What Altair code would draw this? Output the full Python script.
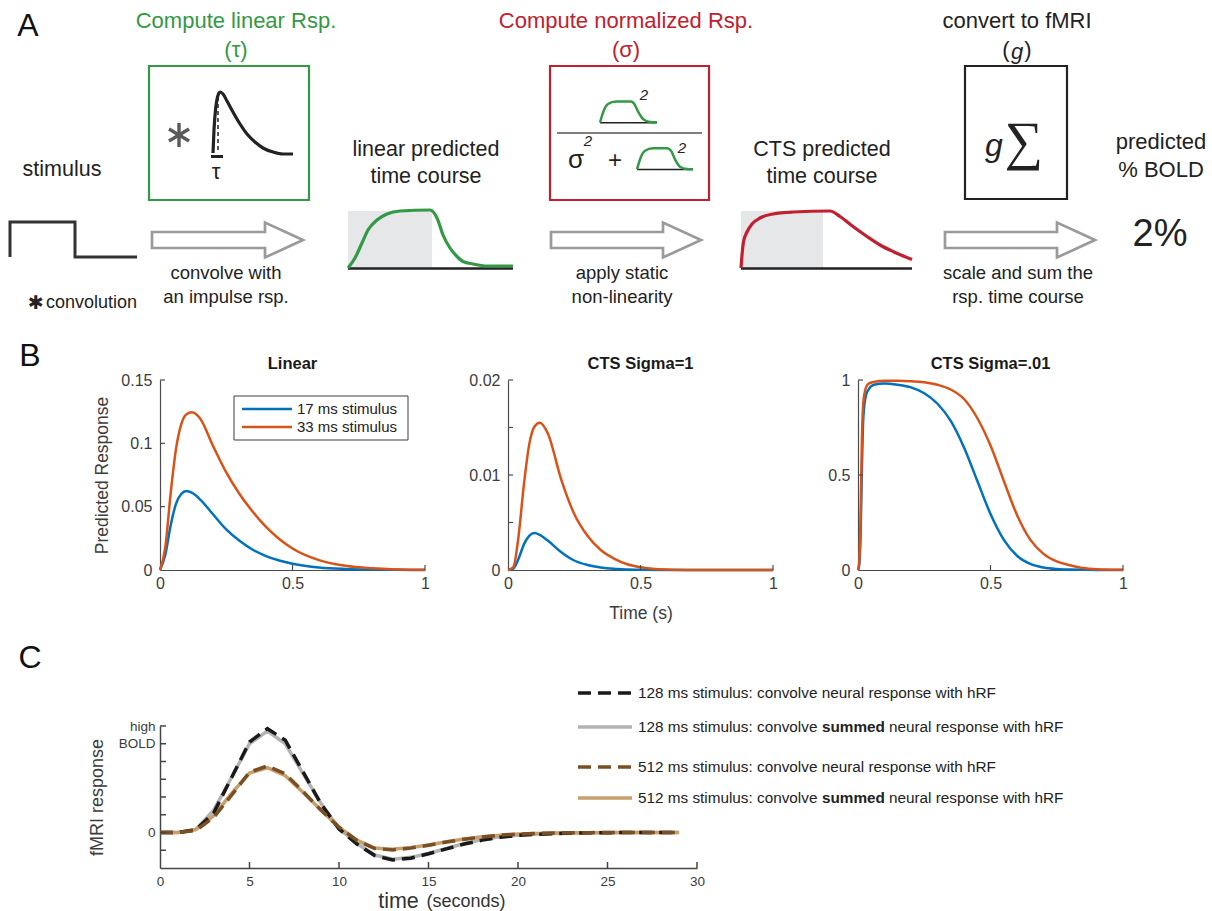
import altair as alt
import pandas as pd

FONT = "Liberation Sans"
GREEN = "#339944"
RED = "#c1202f"
BLUE = "#0072BD"
ORANGE = "#D95319"
AXC = "#4b4b4b"
INK = "#222222"

# ---------------- Panel B : model predictions ----------------
lin_t = [0, 0.02, 0.04, 0.06, 0.08, 0.10, 0.12, 0.15, 0.20, 0.25, 0.30, 0.35, 0.40, 0.45, 0.50, 0.60, 0.70, 0.80, 0.90, 1.00]
lin_17ms = [0, 0.012, 0.035, 0.052, 0.060, 0.0624, 0.061, 0.056, 0.044, 0.032, 0.023, 0.016, 0.011, 0.0075, 0.005, 0.002, 0.0008, 0.0003, 0.0001, 0]
lin_33ms = [0, 0.018, 0.060, 0.095, 0.115, 0.123, 0.1245, 0.120, 0.098, 0.077, 0.060, 0.046, 0.034, 0.0245, 0.017, 0.0078, 0.0033, 0.0013, 0.0004, 0.0001]

cts1_t = [0, 0.02, 0.04, 0.06, 0.08, 0.10, 0.12, 0.15, 0.20, 0.25, 0.30, 0.35, 0.40, 0.45, 0.50, 0.60, 0.70, 0.80, 1.00]
cts1_17ms = [0, 0.00015, 0.0012, 0.0027, 0.0036, 0.0039, 0.0037, 0.0031, 0.0019, 0.0010, 0.00053, 0.00026, 0.00012, 0.00006, 0.00003, 0.000005, 0, 0, 0]
cts1_33ms = [0, 0.0003, 0.0036, 0.0090, 0.0132, 0.0151, 0.0155, 0.0144, 0.0096, 0.0059, 0.0036, 0.0021, 0.0012, 0.0006, 0.0003, 0.00006, 0.00001, 0, 0]

cts01_t = [0, 0.005, 0.01, 0.015, 0.02, 0.03, 0.04, 0.06, 0.10, 0.15, 0.20, 0.25, 0.30, 0.35, 0.40, 0.45, 0.50, 0.55, 0.60, 0.65, 0.70, 0.75, 0.80, 0.85, 0.90, 1.00]
cts01_17ms = [0, 0.03, 0.2, 0.55, 0.8, 0.92, 0.95, 0.975, 0.982, 0.975, 0.961, 0.93, 0.875, 0.785, 0.645, 0.47, 0.295, 0.16, 0.075, 0.032, 0.013, 0.005, 0.002, 0.001, 0.0005, 0]
cts01_33ms = [0, 0.05, 0.3, 0.7, 0.88, 0.96, 0.98, 0.99, 0.996, 0.996, 0.994, 0.988, 0.975, 0.95, 0.90, 0.80, 0.655, 0.47, 0.29, 0.16, 0.085, 0.045, 0.025, 0.01, 0.004, 0.001]

# ---------------- Panel C : fMRI predictions ----------------
c_time = list(range(30))
c128_neural = [0, 0, 0.15, 1.1, 3.1, 5.1, 5.85, 5.2, 3.4, 1.6, 0.2, -0.65, -1.3, -1.55, -1.45, -1.2, -0.92, -0.65, -0.43, -0.27, -0.16, -0.1, -0.06, -0.035, -0.02, -0.01, -0.005, 0, 0, 0]
c128_summed = [0, 0, 0.17, 1.26, 3.1, 5.0, 5.72, 5.0, 3.3, 1.63, 0.22, -0.62, -1.27, -1.5, -1.4, -1.18, -0.9, -0.62, -0.4, -0.24, -0.15, -0.09, -0.05, -0.03, -0.015, -0.008, -0.004, 0, 0, 0]
c512_neural = [0, 0, 0.12, 0.85, 2.1, 3.4, 3.75, 3.3, 2.3, 1.25, 0.3, -0.45, -0.9, -0.98, -0.88, -0.72, -0.54, -0.38, -0.25, -0.15, -0.09, -0.05, -0.03, -0.015, -0.008, -0.004, 0, 0, 0, 0]
c512_summed = [0, 0, 0.17, 0.95, 2.2, 3.35, 3.65, 3.2, 2.25, 1.25, 0.3, -0.43, -0.88, -0.95, -0.85, -0.7, -0.52, -0.37, -0.24, -0.15, -0.09, -0.05, -0.03, -0.015, -0.008, -0.004, 0, 0, 0, 0]
c_colors = {"128n": "#1a1a1a", "128s": "#b3b3b3", "512n": "#7b4f24", "512s": "#c8a06b"}
c_leg_labels = [
    ("128 ms stimulus: convolve neural response with hRF",),
    ("128 ms stimulus: convolve", "summed", "neural response with hRF"),
    ("512 ms stimulus: convolve neural response with hRF",),
    ("512 ms stimulus: convolve", "summed", "neural response with hRF"),
]

# ---------------- Panel A : schematic (page pixel geometry) ----------------
a_labels = [
    (28, 26, "A", 32, "#111111"),
    (236, 21, "Compute linear Rsp.", 22, GREEN),
    (236, 50, "(τ)", 22, GREEN),
    (216, 172, "τ", 22, INK),
    (62, 170, "stimulus", 21.5, INK),
    (226, 273, "convolve with", 18.5, INK),
    (226, 297, "an impulse rsp.", 18.5, INK),
    (426, 150, "linear predicted", 21.5, INK),
    (426, 177, "time course", 21.5, INK),
    (626, 21, "Compute normalized Rsp.", 22, RED),
    (626, 50, "(σ)", 22, RED),
    (576, 160, "σ", 26, INK),
    (615, 161, "+", 24, INK),
    (622, 273, "apply static", 18.5, INK),
    (622, 297, "non-linearity", 18.5, INK),
    (822, 150, "CTS predicted", 21.5, INK),
    (822, 177, "time course", 21.5, INK),
    (1017, 21, "convert to fMRI", 22, INK),
    (1006, 50, "(", 22, INK),
    (1028, 50, ")", 22, INK),
    (1018, 273, "scale and sum the", 18.5, INK),
    (1018, 297, "rsp. time course", 18.5, INK),
    (1161, 142, "predicted", 22, INK),
    (1161, 170, "% BOLD", 22, INK),
    (1160, 235, "2%", 38, INK),
]
a_left_labels = [(46, 303, "convolution", 18, INK)]
a_symbol_labels = [(36, 303, "✱", 19, INK)]
a_italic_labels = [
    (644, 95, "2", 15, INK), (588, 141, "2", 15, INK), (682, 148, "2", 15, INK),
    (1017, 52, "g", 22, INK), (994, 146, "g", 32, INK),
]
a_serif_labels = [(1024, 143, "∑", 54, INK)]

a_boxes = [(149, 66, 309, 200, GREEN), (550, 66, 709, 200, RED), (965, 66, 1067, 199, "#222222")]
a_shades = [(348, 211, 432, 268), (741, 211, 823, 268)]

# convolution asterisk in the green box: three strokes through its centre
star_cx, star_cy = 179, 135
star_dx = [0, 10, 10]
star_dy = [12, 6, -6]

stim_x = [10, 10, 75, 75, 137]
stim_y = [257, 222, 222, 257, 257]
irf_x = [213, 214, 215.5, 217.5, 220, 223, 227, 233, 240, 247, 255, 263, 273, 283, 293]
irf_y = [153, 130, 110, 97, 92, 94, 101, 112, 124, 134, 142, 148, 152, 154, 154]
lin_mini_x = [348, 355, 362, 368, 377, 387, 400, 430, 437, 443, 450, 457, 463, 473, 487, 513]
lin_mini_y = [268, 258, 243, 230, 220, 214, 211, 210, 218, 235, 248, 256.5, 261.5, 264, 266, 266]
cts_mini_x = [741, 742, 743.5, 747, 752, 760, 773, 793, 830, 840, 853, 867, 880, 893, 912]
cts_mini_y = [268, 255, 242, 232, 224, 218, 214, 212, 211, 216.5, 226.5, 236.5, 245, 251.5, 259.5]
num_x = [600, 604, 608, 616, 631, 634, 638, 643, 650, 657]
num_y = [122.5, 110, 104, 101.5, 101.5, 103.5, 111.5, 119, 122, 122.3]
den_x = [637, 641, 645, 653, 667, 671, 675, 680, 687, 693]
den_y = [169.3, 156.7, 150.7, 148.3, 148.3, 150.7, 159.3, 166.7, 169, 169.3]
arrow_x0 = [152, 551, 945]
arrow_xb = [265, 663, 1057]
arrow_xt = [303, 701, 1095]
arrow_yc = 240


def add_poly(rows, pid, xs, ys, color, width):
    for i, (x, y) in enumerate(zip(xs, ys)):
        rows.append({"id": pid, "o": i, "x": x, "y": y, "c": color, "w": width})


xA = alt.Scale(domain=[0, 1212], range=[-160, 1052])
yA = alt.Scale(domain=[0, 315], range=[0, 315])


def ax(f):
    return alt.X(f, type="quantitative", scale=xA, axis=None)


def ay(f):
    return alt.Y(f, type="quantitative", scale=yA, axis=None)


arrow_rows, straight_rows, smooth_rows = [], [], []
for k in range(3):
    x0, xb, xt, yc = arrow_x0[k], arrow_xb[k], arrow_xt[k], arrow_yc
    add_poly(arrow_rows, f"arrow{k}",
             [x0, x0, xb, xb, xt, xb, xb, x0, x0],
             [yc, yc - 8, yc - 8, yc - 17.5, yc, yc + 17.5, yc + 8, yc + 8, yc],
             "#9a9a9a", 2.7)
for k, (dx, dy) in enumerate(zip(star_dx, star_dy)):
    add_poly(straight_rows, f"star{k}", [star_cx - dx, star_cx + dx], [star_cy - dy, star_cy + dy],
             "#5a5a5a", 3.4)
add_poly(straight_rows, "stim", stim_x, stim_y, "#333333", 3)
add_poly(straight_rows, "base1", [348, 513], [268.5, 268.5], INK, 2.5)
add_poly(straight_rows, "base2", [741, 912], [268.5, 268.5], INK, 2.5)
add_poly(straight_rows, "bnum", [600, 657], [122.8, 122.8], INK, 1.5)
add_poly(straight_rows, "bden", [637, 693], [169.5, 169.5], INK, 1.5)
add_poly(straight_rows, "frac", [557, 702], [133, 133], "#555555", 1.5)
add_poly(straight_rows, "taubar", [211, 223], [156.5, 156.5], INK, 3)
add_poly(smooth_rows, "irf", irf_x, irf_y, INK, 3.2)
add_poly(smooth_rows, "lin", lin_mini_x, lin_mini_y, GREEN, 3.2)
add_poly(smooth_rows, "cts", cts_mini_x, cts_mini_y, RED, 3.2)
add_poly(smooth_rows, "num", num_x, num_y, GREEN, 2.5)
add_poly(smooth_rows, "den", den_x, den_y, GREEN, 2.5)


def a_lines(rows, interp, join):
    return alt.Chart(pd.DataFrame(rows)).mark_line(interpolate=interp, strokeJoin=join).encode(
        x=ax("x"), y=ay("y"), detail="id:N", order="o:Q",
        color=alt.Color("c:N", scale=None), strokeWidth=alt.StrokeWidth("w:Q", scale=None))


def a_text(rows, **kw):
    df = pd.DataFrame(rows, columns=["x", "y", "t", "s", "c"])
    return alt.Chart(df).mark_text(baseline="middle", **kw).encode(
        x=ax("x"), y=ay("y"), text="t:N",
        size=alt.Size("s:Q", scale=None), color=alt.Color("c:N", scale=None))


shade_df = pd.DataFrame(a_shades, columns=["x", "y", "x2", "y2"])
box_df = pd.DataFrame(a_boxes, columns=["x", "y", "x2", "y2", "c"])
anchor_df = pd.DataFrame({"x": [0], "y": [0], "x2": [1], "y2": [315]})

panel_a = alt.layer(
    alt.Chart(anchor_df).mark_rect(opacity=0).encode(x=ax("x"), x2="x2", y=ay("y"), y2="y2"),
    alt.Chart(shade_df).mark_rect(color="#e6e7e8").encode(x=ax("x"), x2="x2", y=ay("y"), y2="y2"),
    alt.Chart(box_df).mark_rect(fillOpacity=0, strokeWidth=2.2).encode(
        x=ax("x"), x2="x2", y=ay("y"), y2="y2", stroke=alt.Stroke("c:N", scale=None)),
    a_lines(arrow_rows, "linear", "miter"),
    a_lines(straight_rows, "linear", "miter"),
    a_lines(smooth_rows, "monotone", "round"),
    alt.Chart(pd.DataFrame({"x": [218, 218], "y": [97, 153]})).mark_line(
        color=INK, strokeWidth=1.5, strokeDash=[4, 3]).encode(x=ax("x"), y=ay("y")),
    a_text(a_labels, font=FONT),
    a_text(a_left_labels, font=FONT, align="left"),
    a_text(a_symbol_labels, font="DejaVu Sans"),
    a_text(a_italic_labels, font=FONT, fontStyle="italic"),
    a_text(a_serif_labels, font="Liberation Serif"),
).properties(width=1052, height=315)

# ---------------- Panel B charts ----------------
AXIS = dict(domainColor=AXC, domainWidth=1.2, ticks=False, grid=False,
            labelColor="#3c3c3c", labelFontSize=16, labelFont=FONT,
            labelFlush=False, labelOverlap=False,
            titleColor="#3c3c3c", titleFontSize=17.5, titleFont=FONT, titleFontWeight="normal")
dummy = pd.DataFrame({"a": [0]})


def fixed_text(txt, x, y, size, color=INK, weight="normal", align="center", baseline="middle"):
    return alt.Chart(dummy).mark_text(text=txt, font=FONT, fontSize=size, color=color,
                                      fontWeight=weight, align=align, baseline=baseline).encode(
        x=alt.value(x), y=alt.value(y))


def spacer(x0, x1, y0, y1):
    return alt.Chart(dummy).mark_rect(opacity=0).encode(
        x=alt.value(x0), x2=alt.value(x1), y=alt.value(y0), y2=alt.value(y1))


def panel_b(title, t, s17, s33, ymax, ylabels, yticks, xtitle, ytitle, extra, space):
    n = len(t)
    df = pd.DataFrame({"t": t + t, "v": s17 + s33, "c": [BLUE] * n + [ORANGE] * n,
                       "s": ["17 ms"] * n + ["33 ms"] * n})
    xs = alt.Scale(domain=[0, 1], nice=False, zero=False)
    ys = alt.Scale(domain=[0, ymax], nice=False, zero=False)
    xenc = alt.X("t:Q", scale=xs, axis=alt.Axis(values=[0, 0.5, 1], format=".1~f", title=xtitle,
                                                  labelPadding=5, titlePadding=13, **AXIS))
    yenc = alt.Y("v:Q", scale=ys, axis=alt.Axis(values=ylabels, format=".2~f", title=ytitle,
                                                  labelPadding=8, titlePadding=9, **AXIS))
    lines = alt.Chart(df).mark_line(strokeWidth=2.5, interpolate="monotone").encode(
        x=xenc, y=yenc, color=alt.Color("c:N", scale=None), detail="s:N")
    ytk = alt.Chart(pd.DataFrame({"v": yticks})).mark_rule(color=AXC, strokeWidth=1.2).encode(
        y=yenc, x=alt.value(0), x2=alt.value(5))
    xtk = alt.Chart(pd.DataFrame({"t": [0.5, 1.0]})).mark_rule(color=AXC, strokeWidth=1.2).encode(
        x=xenc, y=alt.value(190), y2=alt.value(185))
    heading = fixed_text(title, 132.5, -11, 16.5, "#1a1a1a", weight="bold", baseline="alphabetic")
    return alt.layer(lines, ytk, xtk, spacer(*space), heading, *extra).properties(width=265, height=190)


b1_extra = [
    fixed_text("B", -130, -24, 32, "#111111"),
    alt.Chart(dummy).mark_rect(fill="white", stroke="#3c3c3c", strokeWidth=1).encode(
        x=alt.value(74), x2=alt.value(248), y=alt.value(16), y2=alt.value(60)),
    alt.Chart(dummy).mark_rule(color=BLUE, strokeWidth=2.5).encode(
        x=alt.value(82), x2=alt.value(132), y=alt.value(29)),
    alt.Chart(dummy).mark_rule(color=ORANGE, strokeWidth=2.5).encode(
        x=alt.value(82), x2=alt.value(132), y=alt.value(47)),
    fixed_text("17 ms stimulus", 137, 29, 15, align="left"),
    fixed_text("33 ms stimulus", 137, 47, 15, align="left"),
]

b1 = panel_b("Linear", lin_t, lin_17ms, lin_33ms, 0.15, [0, 0.05, 0.1, 0.15], [0.05, 0.1, 0.15],
             None, "Predicted Response", b1_extra, (0, 280, -63, 248))
b2 = panel_b("CTS Sigma=1", cts1_t, cts1_17ms, cts1_33ms, 0.02, [0, 0.01, 0.02],
             [0.005, 0.01, 0.015, 0.02], "Time (s)", None, [], (-60, 280, 0, 10))
b3 = panel_b("CTS Sigma=.01", cts01_t, cts01_17ms, cts01_33ms, 1, [0, 0.5, 1], [0.5, 1],
             None, None, [], (-62, 10, 0, 10))
panel_b_row = alt.hconcat(b1, b2, b3, spacing=8)

# ---------------- Panel C chart ----------------
cx = alt.Scale(domain=[0, 30], nice=False, zero=False)
cy = alt.Scale(domain=[-2, 6], nice=False, zero=False)
CAX = dict(domainColor="#444444", domainWidth=1.5, ticks=False, grid=False,
           labelColor="#3c3c3c", labelFontSize=13.5, labelFont=FONT,
           labelFlush=False, labelOverlap=False, titleFont=FONT, titleFontWeight="normal")


def c_df(keys, values):
    rows = []
    for k, vals in zip(keys, values):
        for t, v in zip(c_time, vals):
            rows.append({"t": t, "v": v, "s": k, "c": c_colors[k]})
    return pd.DataFrame(rows)


c_x = alt.X("t:Q", scale=cx, axis=alt.Axis(values=list(range(0, 31, 5)), format="d", title="time",
                                            titleX=238, titleY=39, titleBaseline="alphabetic",
                                            titleAlign="center", titleFontSize=21.5, titleColor="#333333",
                                            labelPadding=6, **CAX))
c_y = alt.Y("v:Q", scale=cy, axis=alt.Axis(values=[0, 5, 6],
                                            labelExpr="datum.value == 6 ? 'high' : datum.value == 5 ? 'BOLD' : '0'",
                                            title="fMRI response", titleFontSize=18, titleColor="#3c3c3c",
                                            titlePadding=12, labelPadding=5, **CAX))

c_solid = alt.Chart(c_df(["128s", "512s"], [c128_summed, c512_summed])).mark_line(strokeWidth=3.5).encode(
    x=c_x, y=c_y, color=alt.Color("c:N", scale=None), detail="s:N")
c_dash = alt.Chart(c_df(["128n", "512n"], [c128_neural, c512_neural])).mark_line(
    strokeWidth=3.5, strokeDash=[13, 7]).encode(
    x=c_x, y=c_y, color=alt.Color("c:N", scale=None), detail="s:N")
c_ytk = alt.Chart(pd.DataFrame({"v": [-1, 0, 1, 2, 3, 4, 5, 6]})).mark_rule(color="#444444", strokeWidth=1.5).encode(
    y=c_y, x=alt.value(0), x2=alt.value(6))
c_xtk = alt.Chart(pd.DataFrame({"t": [5, 10, 15, 20, 25, 30]})).mark_rule(color="#444444", strokeWidth=1.5).encode(
    x=c_x, y=alt.value(142), y2=alt.value(136))

c_layers = [c_solid, c_dash, c_ytk, c_xtk, spacer(0, 1, -96, 0),
            fixed_text("C", -130, -68, 32, "#111111"),
            fixed_text("(seconds)", 306, 181, 18, "#333333", baseline="alphabetic")]
leg_y = [-33, 1, 41, 72]
leg_keys = ["128n", "128s", "512n", "512s"]
for k, (yy, key, parts) in enumerate(zip(leg_y, leg_keys, c_leg_labels)):
    dash = [13, 7] if key.endswith("n") else [1, 0]
    c_layers.append(alt.Chart(dummy).mark_rule(color=c_colors[key], strokeWidth=3.5, strokeDash=dash).encode(
        x=alt.value(418), x2=alt.value(472), y=alt.value(yy)))
    if len(parts) == 1:
        c_layers.append(fixed_text(parts[0], 478, yy, 15.3, align="left"))
    else:
        c_layers.append(fixed_text(parts[0], 478, yy, 15.3, align="left"))
        c_layers.append(fixed_text(parts[1], 662, yy, 15.3, weight="bold", align="left"))
        c_layers.append(fixed_text(parts[2], 729, yy, 15.3, align="left"))

panel_c = alt.layer(*c_layers).properties(width=537, height=142)

chart = alt.vconcat(panel_a, panel_b_row, panel_c, spacing=2).properties(
    padding=0, background="white"
).configure(font=FONT).configure_view(strokeWidth=0)

chart.save("out.html", embed_options={"renderer": "svg", "actions": False})
